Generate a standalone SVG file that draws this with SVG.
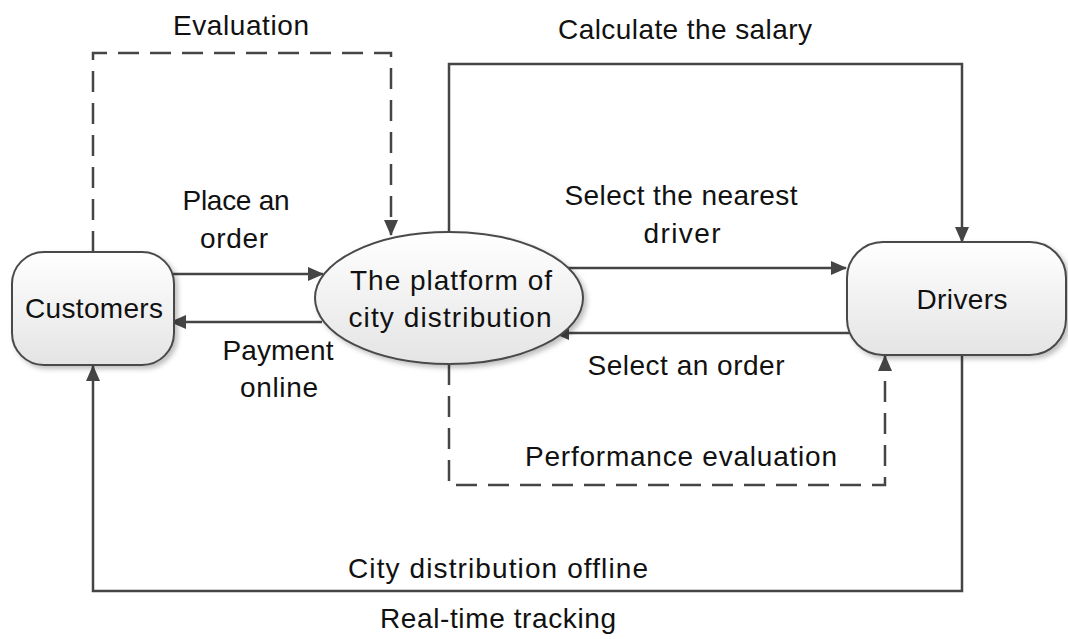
<svg xmlns="http://www.w3.org/2000/svg" width="1068" height="639" viewBox="0 0 1068 639">
<style>
  .lbl { font-family: "Liberation Sans", Arial, sans-serif; font-size: 28px; fill: #111; text-anchor: middle; }
  .line { fill: none; stroke: #454545; stroke-width: 2.5; }
  .dash { stroke-dasharray: 21 11; }
  .node { stroke: #4a4a4a; stroke-width: 2; fill: url(#nodeFill); filter: url(#shadow); }
</style>
<defs>
  <linearGradient id="nodeFill" x1="0" y1="0" x2="0" y2="1">
    <stop offset="0" stop-color="#ffffff"/>
    <stop offset="1" stop-color="#e4e4e4"/>
  </linearGradient>
  <filter id="shadow" x="-10%" y="-10%" width="130%" height="140%">
    <feDropShadow dx="3" dy="3" stdDeviation="2.5" flood-color="#000" flood-opacity="0.25"/>
  </filter>
  <marker id="arrow" markerUnits="userSpaceOnUse" viewBox="0 0 16 14" refX="15" refY="7" markerWidth="16" markerHeight="14" orient="auto">
    <path d="M0,0 L16,7 L0,14 z" fill="#454545"/>
  </marker>
</defs>

<g id="connectors">
  <path id="c-evaluation" class="line dash" d="M93,252 V53 H391 V235" marker-end="url(#arrow)"/>
  <path id="c-place-order" class="line" d="M165,274 H323" marker-end="url(#arrow)"/>
  <path id="c-payment" class="line" d="M322,322 H171" marker-end="url(#arrow)"/>
  <path id="c-salary" class="line" d="M449,232 V64 H962 V242" marker-end="url(#arrow)"/>
  <path id="c-nearest" class="line" d="M568,268 H846" marker-end="url(#arrow)"/>
  <path id="c-select-order" class="line" d="M849,333 H554" marker-end="url(#arrow)"/>
  <path id="c-performance" class="line dash" d="M449,364 V485 H885 V356" marker-end="url(#arrow)"/>
  <path id="c-offline" class="line" d="M962,355 V591 H93 V366" marker-end="url(#arrow)"/>

  <text class="lbl" x="241" y="35" textLength="136" lengthAdjust="spacing">Evaluation</text>
  <text class="lbl" x="685" y="39" textLength="254" lengthAdjust="spacing">Calculate the salary</text>
  <text class="lbl" x="236" y="210" textLength="107" lengthAdjust="spacing">Place an</text>
  <text class="lbl" x="234" y="248" textLength="68" lengthAdjust="spacing">order</text>
  <text class="lbl" x="681" y="205" textLength="233" lengthAdjust="spacing">Select the nearest</text>
  <text class="lbl" x="682" y="243" textLength="77" lengthAdjust="spacing">driver</text>
  <text class="lbl" x="278" y="360" textLength="111" lengthAdjust="spacing">Payment</text>
  <text class="lbl" x="279" y="397" textLength="78" lengthAdjust="spacing">online</text>
  <text class="lbl" x="686" y="375" textLength="197" lengthAdjust="spacing">Select an order</text>
  <text class="lbl" x="681" y="466" textLength="312" lengthAdjust="spacing">Performance evaluation</text>
  <text class="lbl" x="498" y="578" textLength="300" lengthAdjust="spacing">City distribution offline</text>
  <text class="lbl" x="498" y="628" textLength="236" lengthAdjust="spacing">Real-time tracking</text>
</g>

<g id="customers">
  <rect class="node" x="12" y="252" width="162" height="113" rx="32" ry="32"/>
  <text class="lbl" x="94" y="318" textLength="138" lengthAdjust="spacing">Customers</text>
</g>

<g id="platform">
  <ellipse class="node" cx="449" cy="298" rx="134" ry="66"/>
  <text class="lbl" x="451" y="290" textLength="202" lengthAdjust="spacing">The platform of</text>
  <text class="lbl" x="450" y="327" textLength="203" lengthAdjust="spacing">city distribution</text>
</g>

<g id="drivers">
  <rect class="node" x="847" y="242" width="219" height="113" rx="36" ry="36"/>
  <text class="lbl" x="962" y="309" textLength="91" lengthAdjust="spacing">Drivers</text>
</g>
</svg>
